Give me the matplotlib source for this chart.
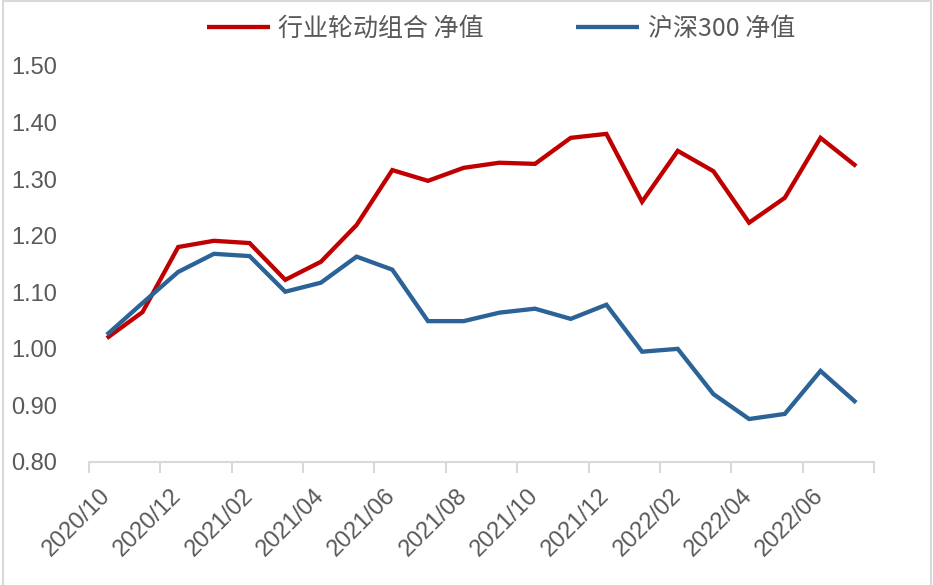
import matplotlib
matplotlib.use("Agg")
import matplotlib.pyplot as plt
from matplotlib.patches import Rectangle
from matplotlib.ticker import FixedLocator, FormatStrFormatter
import numpy as np

# monthly net values, 2020/10 .. 2022/07
months = ["2020/10", "2020/11", "2020/12", "2021/01", "2021/02", "2021/03",
          "2021/04", "2021/05", "2021/06", "2021/07", "2021/08", "2021/09",
          "2021/10", "2021/11", "2021/12", "2022/01", "2022/02", "2022/03",
          "2022/04", "2022/05", "2022/06", "2022/07"]
rotation_nav = [1.019, 1.065, 1.180, 1.191, 1.187, 1.122, 1.154, 1.219,
                1.316, 1.297, 1.320, 1.329, 1.327, 1.373, 1.380, 1.260,
                1.350, 1.314, 1.223, 1.267, 1.373, 1.323]
hs300_nav = [1.025, 1.081, 1.136, 1.168, 1.164, 1.101, 1.117, 1.163,
             1.140, 1.049, 1.049, 1.064, 1.071, 1.053, 1.078, 0.995,
             1.000, 0.920, 0.876, 0.885, 0.961, 0.905]
series_names = ["行业轮动组合 净值", "沪深300 净值"]
y_ticks = [0.80, 0.90, 1.00, 1.10, 1.20, 1.30, 1.40, 1.50]

RED = "#C00000"
BLUE = "#2B6397"
GRAY = "#595959"
AXIS_GRAY = "#D9D9D9"

W, H = 933, 585
fig = plt.figure(figsize=(W / 100, H / 100), dpi=100)
ax = fig.add_axes([89 / W, 1 - 462 / H, (874 - 89) / W, (462 - 66) / H])

x = np.arange(len(months))
ax.plot(x, rotation_nav, color=RED, lw=3.1, label=series_names[0],
        solid_joinstyle="miter", solid_capstyle="butt")
ax.plot(x, hs300_nav, color=BLUE, lw=3.1, label=series_names[1],
        solid_joinstyle="miter", solid_capstyle="butt")

ax.set_xlim(-0.5, len(months) - 0.5)
ax.set_ylim(y_ticks[0], y_ticks[-1])

for s in ["top", "right", "left"]:
    ax.spines[s].set_visible(False)
ax.spines["bottom"].set_color(AXIS_GRAY)
ax.spines["bottom"].set_linewidth(1.5)

# labels every 2nd month, tick marks between category groups
ax.set_xticks(x[::2])
ax.set_xticklabels(months[::2], rotation=45, ha="right", va="center",
                   rotation_mode="anchor", fontsize=17, color=GRAY,
                   family="Liberation Sans")
ax.tick_params(axis="x", which="major", length=0, pad=22)
ax.xaxis.set_minor_locator(FixedLocator(np.arange(-0.5, len(months), 2)))
ax.tick_params(axis="x", which="minor", length=8, width=1.5, color=AXIS_GRAY)

ax.set_yticks(y_ticks)
ax.yaxis.set_major_formatter(FormatStrFormatter("%.2f"))
ax.tick_params(axis="y", length=0, pad=23, labelsize=17, labelcolor=GRAY)
for lab in ax.get_yticklabels():
    lab.set_family("Liberation Sans")

leg = fig.legend(loc="center", bbox_to_anchor=(501 / W, 1 - 29 / H), ncol=2,
                 frameon=False, handlelength=2.5, handletextpad=0.35,
                 columnspacing=3.7, borderpad=0,
                 prop={"family": ["Noto Sans CJK SC", "DejaVu Sans"], "size": 18})
for t in leg.get_texts():
    t.set_color(GRAY)

# outer chart frame
fig.patches.append(Rectangle((3 / W, -0.05), (931 - 3) / W, 1.05 - 1 / H,
                             transform=fig.transFigure, fill=False,
                             edgecolor=AXIS_GRAY, lw=1.5))

fig.savefig("out.png", dpi=100)
